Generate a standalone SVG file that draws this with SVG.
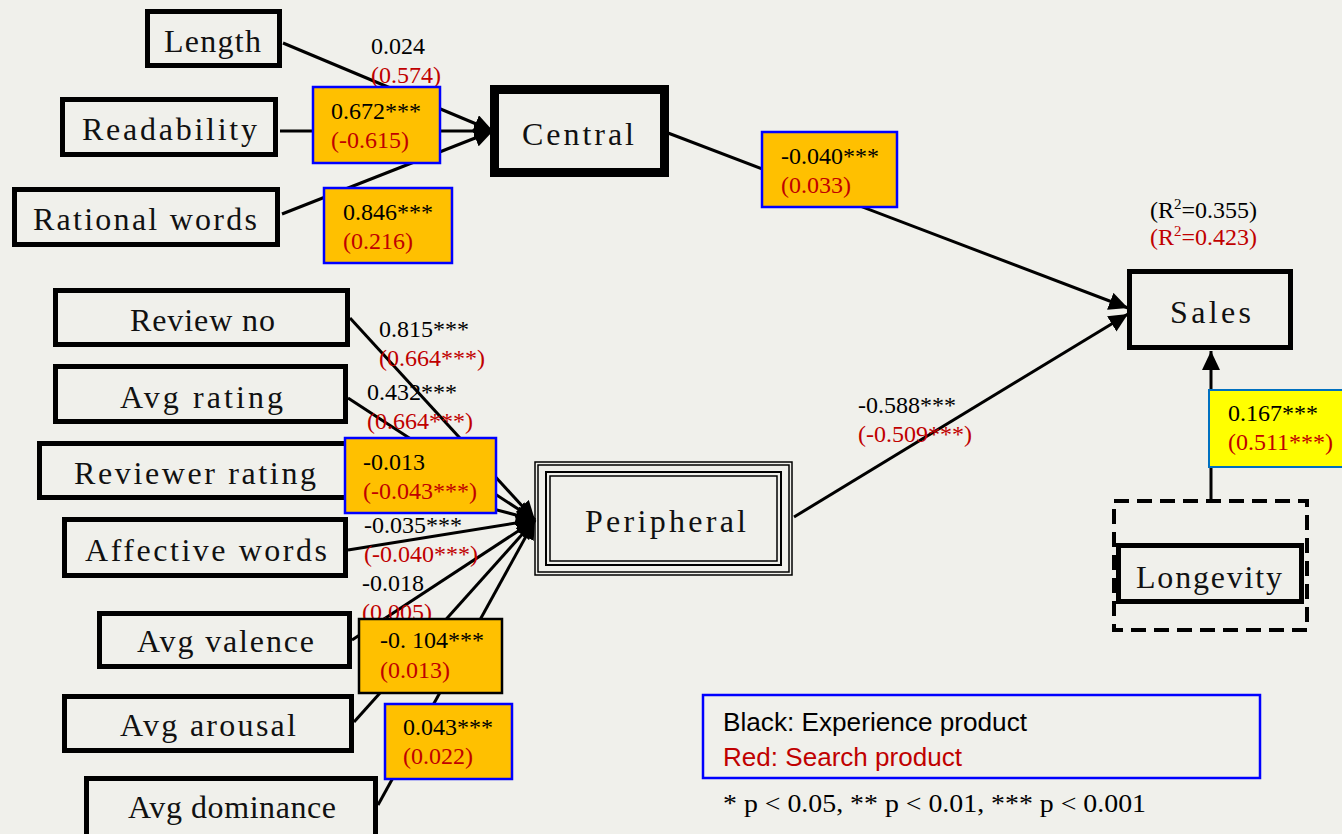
<svg xmlns="http://www.w3.org/2000/svg" width="1342" height="834" viewBox="0 0 1342 834">
<defs>
<marker id="arr" markerUnits="userSpaceOnUse" markerWidth="20" markerHeight="18" refX="19" refY="9" orient="auto">
<path d="M0,0 L19,9 L0,18 z" fill="#000"/>
</marker>
<style>
.node{fill:none;stroke:#000;stroke-width:5}
.lbl{font-family:"Liberation Serif",serif;font-size:32px;fill:#111}
.edge{stroke:#000;stroke-width:3;fill:none}
.ea{stroke:#000;stroke-width:3;fill:none;marker-end:url(#arr)}
.num{font-family:"Liberation Serif",serif;font-size:24px;fill:#000}
.red{fill:#C00000}
.ob{fill:#FFC000;stroke:#0000FF;stroke-width:2.5}
.leg{font-family:"Liberation Sans",sans-serif;font-size:25px}
</style>
</defs>
<rect width="1342" height="834" fill="#F0F0EB"/>
<g id="connectors">
<line class="ea" x1="283" y1="43" x2="493" y2="131"/>
<line class="ea" x1="280" y1="131" x2="493" y2="131"/>
<line class="ea" x1="282" y1="214" x2="493" y2="131"/>
<line class="ea" x1="668" y1="133" x2="1128" y2="308"/>
<line class="ea" x1="794" y1="517" x2="1128" y2="314"/>
<line class="ea" x1="1211" y1="500" x2="1211" y2="351"/>
<line class="ea" x1="350" y1="318" x2="535" y2="520"/>
<line class="ea" x1="348" y1="398" x2="535" y2="520"/>
<line class="ea" x1="345" y1="470" x2="535" y2="520"/>
<line class="ea" x1="348" y1="550" x2="535" y2="520"/>
<line class="ea" x1="352" y1="640" x2="535" y2="520"/>
<line class="ea" x1="354" y1="722" x2="535" y2="520"/>
<line class="ea" x1="378" y1="805" x2="535" y2="520"/>
</g>
<g id="n-length"><rect class="node" x="147.5" y="11.5" width="132" height="54"/><text class="lbl" x="164" y="52" textLength="97" lengthAdjust="spacing">Length</text></g>
<g id="n-readability"><rect class="node" x="62.5" y="99.5" width="213" height="55"/><text class="lbl" x="82" y="140" textLength="175" lengthAdjust="spacing">Readability</text></g>
<g id="n-rational"><rect class="node" x="14.5" y="189.5" width="263" height="55"/><text class="lbl" x="33" y="230" textLength="224" lengthAdjust="spacing">Rational words</text></g>
<g id="n-central"><rect class="node" style="stroke-width:9" x="494.5" y="89.5" width="170" height="83"/><text class="lbl" x="522" y="145" textLength="112" lengthAdjust="spacing">Central</text></g>
<g id="n-sales"><rect class="node" x="1129.5" y="271.5" width="161" height="76"/><text class="lbl" x="1170" y="323" textLength="81" lengthAdjust="spacing">Sales</text></g>
<g id="n-longevity"><rect fill="none" stroke="#000" stroke-width="4" stroke-dasharray="15,8" x="1114" y="501" width="193" height="129"/><rect class="node" x="1118.5" y="545.5" width="183" height="56"/><text class="lbl" x="1136" y="588" textLength="146" lengthAdjust="spacing">Longevity</text></g>
<g id="n-peripheral">
<rect fill="none" stroke="#000" stroke-width="1.5" x="535" y="462" width="257" height="113"/>
<rect fill="none" stroke="#000" stroke-width="1.5" x="538" y="465" width="251" height="107"/>
<rect fill="none" stroke="#000" stroke-width="2" x="546" y="472" width="235" height="93"/>
<rect fill="none" stroke="#000" stroke-width="1.5" x="550" y="476" width="227" height="85"/>
<text class="lbl" x="585" y="532" textLength="161" lengthAdjust="spacing">Peripheral</text></g>
<g id="n-reviewno"><rect class="node" x="55.5" y="290.5" width="292" height="54"/><text class="lbl" x="130" y="331" textLength="145" lengthAdjust="spacing">Review no</text></g>
<g id="n-avgrating"><rect class="node" x="55.5" y="366.5" width="290" height="55"/><text class="lbl" x="120" y="408" textLength="163" lengthAdjust="spacing">Avg rating</text></g>
<g id="n-reviewer"><rect class="node" x="39.5" y="443.5" width="308" height="54"/><text class="lbl" x="74" y="484" textLength="242" lengthAdjust="spacing">Reviewer rating</text></g>
<g id="n-affective"><rect class="node" x="64.5" y="519.5" width="281" height="56"/><text class="lbl" x="85" y="561" textLength="242" lengthAdjust="spacing">Affective words</text></g>
<g id="n-valence"><rect class="node" x="99.5" y="613.5" width="250" height="53"/><text class="lbl" x="137" y="652" textLength="177" lengthAdjust="spacing">Avg valence</text></g>
<g id="n-arousal"><rect class="node" x="64.5" y="696.5" width="287" height="54"/><text class="lbl" x="120" y="736" textLength="176" lengthAdjust="spacing">Avg arousal</text></g>
<g id="n-dominance"><rect class="node" x="86.5" y="778.5" width="289" height="62"/><text class="lbl" x="128" y="818" textLength="208" lengthAdjust="spacing">Avg dominance</text></g>
<g id="labels">
<text class="num" x="371" y="54">0.024</text><text class="num red" x="371" y="83">(0.574)</text>
<rect class="ob" x="313" y="87" width="127" height="76"/><text class="num" x="331" y="119">0.672***</text><text class="num red" x="331" y="148">(-0.615)</text>
<rect class="ob" x="324" y="188" width="128" height="75"/><text class="num" x="343" y="220">0.846***</text><text class="num red" x="343" y="249">(0.216)</text>
<rect class="ob" x="762" y="132" width="135" height="75"/><text class="num" x="781" y="164">-0.040***</text><text class="num red" x="781" y="193">(0.033)</text>
<text class="num" x="379" y="337">0.815***</text><text class="num red" x="379" y="366">(0.664***)</text>
<text class="num" x="367" y="400">0.432***</text><text class="num red" x="367" y="429">(0.664***)</text>
<rect class="ob" x="345" y="438" width="151" height="75"/><text class="num" x="363" y="470">-0.013</text><text class="num red" x="363" y="499">(-0.043***)</text>
<text class="num" x="364" y="533">-0.035***</text><text class="num red" x="364" y="562">(-0.040***)</text>
<text class="num" x="362" y="591">-0.018</text><text class="num red" x="362" y="620">(0.005)</text>
<rect class="ob" style="stroke:#000" x="359" y="619" width="143" height="74"/><text class="num" x="380" y="648">-0. 104***</text><text class="num red" x="380" y="678">(0.013)</text>
<rect class="ob" x="385" y="704" width="127" height="75"/><text class="num" x="403" y="735">0.043***</text><text class="num red" x="403" y="764">(0.022)</text>
<text class="num" x="858" y="413">-0.588***</text><text class="num red" x="858" y="442">(-0.509***)</text>
<text class="num" x="1150" y="218">(R<tspan font-size="15" dy="-9">2</tspan><tspan dy="9">=0.355)</tspan></text>
<text class="num red" x="1150" y="245">(R<tspan font-size="15" dy="-9">2</tspan><tspan dy="9">=0.423)</tspan></text>
<rect fill="#FFFF00" stroke="#0070C0" stroke-width="2" x="1209" y="390" width="140" height="77"/><text class="num" x="1228" y="421">0.167***</text><text class="num red" x="1228" y="450">(0.511***)</text>
</g>
<g id="legend">
<rect fill="none" stroke="#0000FF" stroke-width="2.5" x="703" y="695" width="557" height="83"/>
<text class="leg" x="723" y="731" fill="#000" textLength="304" lengthAdjust="spacingAndGlyphs">Black: Experience product</text>
<text class="leg" x="723" y="766" fill="#C00000" textLength="239" lengthAdjust="spacingAndGlyphs">Red: Search product</text>
<text class="num" style="font-size:25px" x="723" y="812" textLength="423" lengthAdjust="spacingAndGlyphs">* p &lt; 0.05, ** p &lt; 0.01, *** p &lt; 0.001</text>
</g>
</svg>
